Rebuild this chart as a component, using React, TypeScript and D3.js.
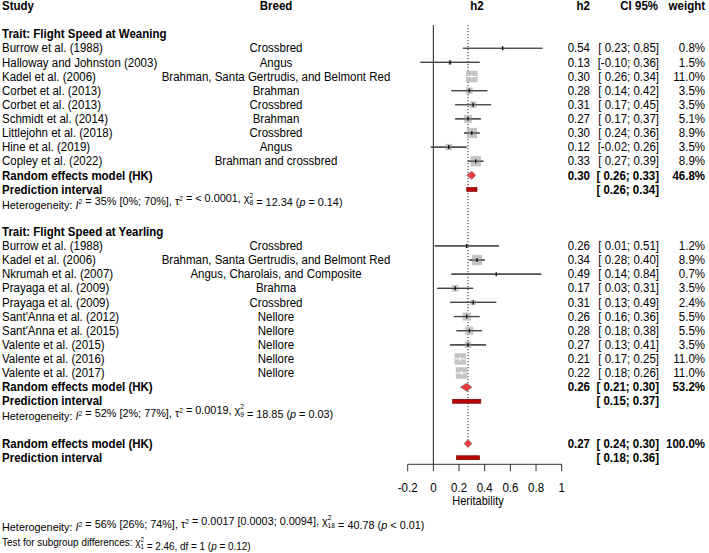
import React, { useEffect, useRef } from 'react';
import * as d3 from 'd3';

// Trait: Flight Speed at Weaning
const weanStudies = ['Burrow et al. (1988)', 'Halloway and Johnston (2003)', 'Kadel et al. (2006)', 'Corbet et al. (2013)', 'Corbet et al. (2013)', 'Schmidt et al. (2014)', 'Littlejohn et al. (2018)', 'Hine et al. (2019)', 'Copley et al. (2022)'];
const weanBreeds = ['Crossbred', 'Angus', 'Brahman, Santa Gertrudis, and Belmont Red', 'Brahman', 'Crossbred', 'Brahman', 'Crossbred', 'Angus', 'Brahman and crossbred'];
const weanH2 = [0.54, 0.13, 0.30, 0.28, 0.31, 0.27, 0.30, 0.12, 0.33];
const weanLower = [0.23, -0.10, 0.26, 0.14, 0.17, 0.17, 0.24, -0.02, 0.27];
const weanUpper = [0.85, 0.36, 0.34, 0.42, 0.45, 0.37, 0.36, 0.26, 0.39];
const weanWeight = [0.8, 1.5, 11.0, 3.5, 3.5, 5.1, 8.9, 3.5, 8.9];

// Trait: Flight Speed at Yearling
const yearStudies = ['Burrow et al. (1988)', 'Kadel et al. (2006)', 'Nkrumah et al. (2007)', 'Prayaga et al. (2009)', 'Prayaga et al. (2009)', "Sant'Anna et al. (2012)", "Sant'Anna et al. (2015)", 'Valente et al. (2015)', 'Valente et al. (2016)', 'Valente et al. (2017)'];
const yearBreeds = ['Crossbred', 'Brahman, Santa Gertrudis, and Belmont Red', 'Angus, Charolais, and Composite', 'Brahma', 'Crossbred', 'Nellore', 'Nellore', 'Nellore', 'Nellore', 'Nellore'];
const yearH2 = [0.26, 0.34, 0.49, 0.17, 0.31, 0.26, 0.28, 0.27, 0.21, 0.22];
const yearLower = [0.01, 0.28, 0.14, 0.03, 0.13, 0.16, 0.18, 0.13, 0.17, 0.18];
const yearUpper = [0.51, 0.40, 0.84, 0.31, 0.49, 0.36, 0.38, 0.41, 0.25, 0.26];
const yearWeight = [1.2, 8.9, 0.7, 3.5, 2.4, 5.5, 5.5, 3.5, 11.0, 11.0];

// random effects summaries: weaning, yearling, overall
const summaryH2 = [0.30, 0.26, 0.27];
const summaryLower = [0.26, 0.21, 0.24];
const summaryUpper = [0.33, 0.30, 0.30];
const summaryWeight = [46.8, 53.2, 100.0];
const predLower = [0.26, 0.15, 0.18];
const predUpper = [0.34, 0.37, 0.36];

const xTicks = [-0.2, 0, 0.2, 0.4, 0.6, 0.8, 1];

const FONT = 'Liberation Sans, Arial, sans-serif';
const SQUEEZE = 0.92; // text in the figure is a bit narrow

const App = () => {
  const ref = useRef<SVGSVGElement>(null);

  useEffect(() => {
    const svg = d3.select(ref.current);
    svg.selectAll('*').remove();

    const x = d3.scaleLinear().domain([-0.2, 1]).range([407.7, 561.7]);
    const y = d3.scaleLinear().domain([0, 32]).range([5.9, 5.9 + 32 * 14.12]);
    const f2 = (v: number) => v.toFixed(2);
    const pad = (v: number) => (v < 0 ? f2(v) : ' ' + f2(v));
    const ci = (lo: number, hi: number) => `[${pad(lo)}; ${pad(hi)}]`;
    const pct = (w: number) => w.toFixed(1) + '%';
    const side = (w: number) => Math.max(2.5, 11.5 * Math.sqrt(w / 11));

    const txtAt = (xx: number, yy: number, s: string, anchor = 'start', bold = false, size = 12.5) =>
      svg.append('text')
        .attr('transform', `translate(${xx},${yy}) scale(${SQUEEZE},1)`)
        .attr('dominant-baseline', 'central')
        .attr('text-anchor', anchor)
        .style('font-family', FONT)
        .style('font-size', size + 'px')
        .style('font-weight', bold ? 'bold' : 'normal')
        .text(s);
    const txt = (row: number, xx: number, s: string, anchor = 'start', bold = false) =>
      txtAt(xx, y(row), s, anchor, bold);

    // headers
    txt(0, 2, 'Study', 'start', true);
    txt(0, 276, 'Breed', 'middle', true);
    txt(0, 477, 'h2', 'middle', true);
    txt(0, 590, 'h2', 'end', true);
    txt(0, 658, 'CI 95%', 'end', true);
    txt(0, 705, 'weight', 'end', true);

    // zero line and dotted overall line
    svg.append('line')
      .attr('x1', x(0)).attr('x2', x(0))
      .attr('y1', 25).attr('y2', 464.3)
      .attr('stroke', '#333').attr('stroke-width', 1.1);
    svg.append('line')
      .attr('x1', x(summaryH2[2])).attr('x2', x(summaryH2[2]))
      .attr('y1', 25).attr('y2', y(31) - 4)
      .attr('stroke', '#222').attr('stroke-width', 1)
      .attr('stroke-dasharray', '1.2,1.8');

    const studyRow = (row: number, study: string, breed: string, h: number, lo: number, hi: number, w: number) => {
      txt(row, 2, study);
      txt(row, 276, breed, 'middle');
      txt(row, 590, f2(h), 'end');
      txt(row, 659, ci(lo, hi), 'end');
      txt(row, 705, pct(w), 'end');
      const yy = y(row);
      const s = side(w);
      const inside = x(hi) - x(lo) <= s;
      svg.append('line')
        .attr('x1', x(lo)).attr('x2', x(hi)).attr('y1', yy).attr('y2', yy)
        .attr('stroke', '#555').attr('stroke-width', 1.2);
      svg.append('rect')
        .attr('x', x(h) - s / 2).attr('y', yy - s / 2)
        .attr('width', s).attr('height', s)
        .attr('fill', '#c4c4c4');
      const col = inside ? '#fff' : '#444';
      svg.append('line')
        .attr('x1', x(lo)).attr('x2', x(hi)).attr('y1', yy).attr('y2', yy)
        .attr('stroke', col).attr('stroke-width', inside ? 1 : 1.2);
      svg.append('line')
        .attr('x1', x(h)).attr('x2', x(h)).attr('y1', yy - 2).attr('y2', yy + 2)
        .attr('stroke', inside ? '#fff' : '#000').attr('stroke-width', 1.2);
    };

    const summaryRows = (i: number, row: number) => {
      txt(row, 2, 'Random effects model (HK)', 'start', true);
      txt(row, 590, f2(summaryH2[i]), 'end', true);
      txt(row, 659, ci(summaryLower[i], summaryUpper[i]), 'end', true);
      txt(row, 705, pct(summaryWeight[i]), 'end', true);
      txt(row + 1, 2, 'Prediction interval', 'start', true);
      txt(row + 1, 659, ci(predLower[i], predUpper[i]), 'end', true);
      const yy = y(row);
      svg.append('path')
        .attr('d', `M${x(summaryLower[i])},${yy}L${x(summaryH2[i])},${yy - 4}L${x(summaryUpper[i])},${yy}L${x(summaryH2[i])},${yy + 4}Z`)
        .attr('fill', '#ee3b3b').attr('stroke', '#666').attr('stroke-width', 0.6);
      const yp = y(row + 1);
      svg.append('rect')
        .attr('x', x(predLower[i])).attr('y', yp - 2)
        .attr('width', x(predUpper[i]) - x(predLower[i])).attr('height', 4)
        .attr('fill', '#bb0000').attr('stroke', '#6b0000').attr('stroke-width', 0.6);
    };

    type Seg = { t: string, it?: boolean, sup?: string, sub?: string };
    const richText = (yy: number, segs: Seg[], size = 10.5) => {
      const t = svg.append('text')
        .attr('transform', `translate(2,${yy}) scale(${SQUEEZE},1)`)
        .attr('dominant-baseline', 'central')
        .style('font-family', FONT)
        .style('font-size', size + 'px');
      const small = size * 0.62;
      segs.forEach(sg => {
        t.append('tspan').style('font-style', sg.it ? 'italic' : 'normal').text(sg.t);
        if (sg.sup) {
          t.append('tspan').attr('dy', -3.3).style('font-size', small + 'px').text(sg.sup);
          if (sg.sub) {
            t.append('tspan').attr('dx', -small * 0.556 * sg.sup.length).attr('dy', 7.6).style('font-size', small + 'px').text(sg.sub);
            t.append('tspan').attr('dy', -4.3).text('');
          } else {
            t.append('tspan').attr('dy', 3.3).text('');
          }
        }
      });
    };

    // weaning block
    txt(2, 2, 'Trait:  Flight Speed at Weaning', 'start', true);
    weanStudies.forEach((s, i) => studyRow(3 + i, s, weanBreeds[i], weanH2[i], weanLower[i], weanUpper[i], weanWeight[i]));
    summaryRows(0, 12);
    richText(y(14) + 0.8, [
      { t: 'Heterogeneity: ' }, { t: 'I', it: true, sup: '2' }, { t: ' = 35% [0%; 70%], τ', sup: '2' },
      { t: ' = < 0.0001, χ', sup: '2', sub: '8' }, { t: ' = 12.34 (' }, { t: 'p', it: true }, { t: ' = 0.14)' },
    ], 11.8);

    // yearling block
    txt(16, 2, 'Trait:  Flight Speed at Yearling', 'start', true);
    yearStudies.forEach((s, i) => studyRow(17 + i, s, yearBreeds[i], yearH2[i], yearLower[i], yearUpper[i], yearWeight[i]));
    summaryRows(1, 27);
    richText(y(29) + 0.8, [
      { t: 'Heterogeneity: ' }, { t: 'I', it: true, sup: '2' }, { t: ' = 52% [2%; 77%], τ', sup: '2' },
      { t: ' = 0.0019, χ', sup: '2', sub: '9' }, { t: ' = 18.85 (' }, { t: 'p', it: true }, { t: ' = 0.03)' },
    ], 11.8);

    // overall
    summaryRows(2, 31);

    // x axis
    const axisY = 464.3;
    svg.append('line')
      .attr('x1', x(-0.2)).attr('x2', x(1)).attr('y1', axisY).attr('y2', axisY)
      .attr('stroke', '#333').attr('stroke-width', 1);
    xTicks.forEach(t => {
      svg.append('line')
        .attr('x1', x(t)).attr('x2', x(t)).attr('y1', axisY).attr('y2', axisY + 7)
        .attr('stroke', '#333').attr('stroke-width', 1);
      txtAt(x(t), 488, String(t), 'middle');
    });
    txtAt(478, 501, 'Heritability', 'middle', false, 12);

    richText(527, [
      { t: 'Heterogeneity: ' }, { t: 'I', it: true, sup: '2' }, { t: ' = 56% [26%; 74%], τ', sup: '2' },
      { t: ' = 0.0017 [0.0003; 0.0094], χ', sup: '2', sub: '18' }, { t: ' = 40.78 (' }, { t: 'p', it: true }, { t: ' < 0.01)' },
    ], 11.8);
    richText(542, [
      { t: 'Test for subgroup differences: χ', sup: '2', sub: '1' }, { t: ' = 2.46, df = 1 (' }, { t: 'p', it: true }, { t: ' = 0.12)' },
    ], 10.8);
  }, []);

  return (
    <svg ref={ref} width={709} height={553}
      style={{ position: 'absolute', left: 0, top: 0, background: '#fff' }} />
  );
};

export default App;
